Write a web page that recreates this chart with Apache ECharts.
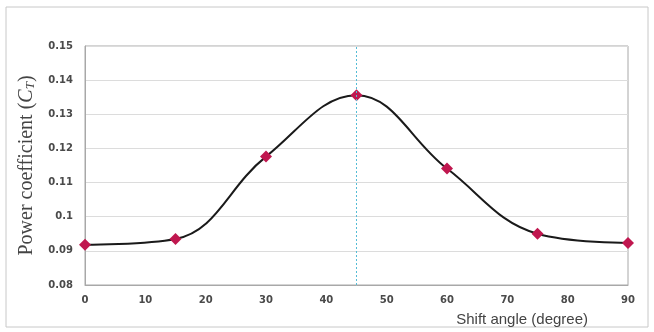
<!DOCTYPE html>
<html><head><meta charset="utf-8">
<script src="https://cdn.jsdelivr.net/npm/echarts@6/dist/echarts.min.js"></script>
<style>html,body{margin:0;padding:0;background:#fff}#c{width:654px;height:332px}</style>
</head><body><div id="c"></div>
<script>
const angles = [0, 15, 30, 45, 60, 75, 90];
const cp = [0.0918, 0.0935, 0.1176, 0.1356, 0.1141, 0.0950, 0.0923];
const xTicks = [0, 10, 20, 30, 40, 50, 60, 70, 80, 90];
const yTicks = [0.08, 0.09, 0.1, 0.11, 0.12, 0.13, 0.14, 0.15];
const peakAngle = 45;

const chart = echarts.init(document.getElementById('c'));
chart.setOption({
  animation: false,
  backgroundColor: '#fff',
  graphic: [{type: 'rect', shape: {x: 6, y: 7, width: 642, height: 320}, style: {fill: 'none', stroke: '#c8c8c8', lineWidth: 1}}],
  grid: {left: 85, right: 26, top: 46, bottom: 47, show: true, borderColor: '#a8a8a8', borderWidth: 1},
  xAxis: {
    type: 'value', min: 0, max: 90, interval: 10,
    name: 'Shift angle (degree)', nameLocation: 'end',
    nameTextStyle: {fontFamily: 'Liberation Sans', fontSize: 15, color: '#444', align: 'right', verticalAlign: 'top', padding: [27, 55, 0, 0]},
    axisLine: {show: true, lineStyle: {color: '#a8a8a8'}},
    axisTick: {show: false},
    splitLine: {show: false},
    axisLabel: {margin: 10, fontFamily: 'DejaVu Sans', fontWeight: 'bold', fontSize: 10, color: '#4a4a4a',
      formatter: v => xTicks.includes(v) ? String(v) : ''}
  },
  yAxis: {
    type: 'value', min: 0.08, max: 0.15, interval: 0.01,
    name: '{a|Power coefficient (}{i|C}{s|T}{a|)}', nameLocation: 'middle', nameGap: 48, nameRotate: 90,
    nameTextStyle: {rich: {
      a: {fontFamily: 'Liberation Serif', fontSize: 20, color: '#444'},
      i: {fontFamily: 'Liberation Serif', fontStyle: 'italic', fontSize: 20, color: '#444'},
      s: {fontFamily: 'Liberation Serif', fontStyle: 'italic', fontSize: 13, color: '#444', verticalAlign: 'bottom', padding: [8, 0, 0, 0]}
    }},
    axisLine: {show: true, lineStyle: {color: '#a8a8a8'}},
    axisTick: {show: false},
    splitLine: {show: true, lineStyle: {color: '#dcdcdc'}},
    axisLabel: {margin: 12, fontFamily: 'DejaVu Sans', fontWeight: 'bold', fontSize: 10, color: '#4a4a4a',
      formatter: v => { const t = yTicks.find(y => Math.abs(y - v) < 1e-9); return t === undefined ? '' : String(t); }}
  },
  series: [{
    type: 'line',
    data: angles.map((a, i) => [a, cp[i]]),
    smooth: 0.4,
    symbol: 'diamond', symbolSize: 12,
    itemStyle: {color: '#c0174f'},
    lineStyle: {color: '#1a1a1a', width: 2},
    z: 3,
    markLine: {
      silent: true, symbol: 'none', label: {show: false},
      lineStyle: {color: '#55bcd6', type: [2, 2], width: 1},
      data: [{xAxis: peakAngle}]
    }
  }]
});
</script></body></html>
